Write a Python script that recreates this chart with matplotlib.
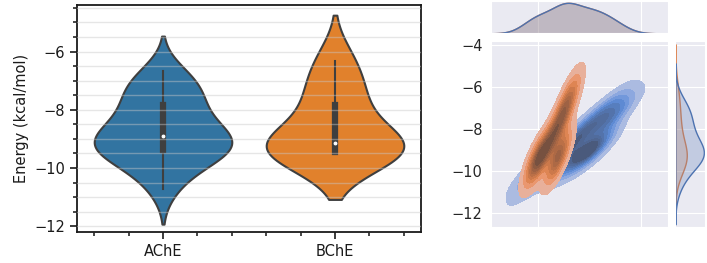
import numpy as np
import pandas as pd
import matplotlib
matplotlib.use("Agg")
import matplotlib.pyplot as plt
from matplotlib.ticker import MultipleLocator
import seaborn as sns

# docking energies (kcal/mol) per enzyme
ache_energy = [-10.72, -10.15, -9.85, -9.65, -9.45, -9.38, -9.28, -9.18, -9.08, -8.98,
               -8.82, -8.65, -8.45, -8.25, -7.9, -7.7, -7.45, -7.2, -6.95, -6.68]
bche_energy = [-9.5, -9.48, -9.45, -9.2, -9.05, -8.0, -7.3, -6.33]

# second descriptor for the joint panel (unlabelled axis)
ache_x = [-0.15, -0.13, 0.53, 0.06, 0.79, 0.51, 1.00, 0.69, 1.08, 0.57,
          1.08, 0.60, 1.17, 0.80, 1.18, 0.96, 1.46, 1.30, 1.60, 1.45]
bche_x = [0.0, 0.38, -0.05, 0.40, 0.15, 0.35, 0.50, 0.62]

enzymes = ["AChE", "BChE"]

df = pd.DataFrame({
    "enzyme": ["AChE"] * len(ache_energy) + ["BChE"] * len(bche_energy),
    "energy": ache_energy + bche_energy,
    "x": ache_x + bche_x,
})

W, H = 707, 263
fig = plt.figure(figsize=(W / 100, H / 100), dpi=100)

def box(x0, y0, x1, y1):
    # pixel box (top-left origin) -> figure fraction rect
    return [x0 / W, 1 - y1 / H, (x1 - x0) / W, (y1 - y0) / H]

# ---- left: violin plot ----
with sns.axes_style("ticks"):
    ax = fig.add_axes(box(77, 5, 421, 232))
sns.violinplot(data=df, x="enzyme", y="energy", hue="enzyme", order=enzymes,
               hue_order=enzymes, palette=["#1f77b4", "#ff7f0e"], density_norm="width",
               inner="box", inner_kws=dict(box_width=4.5, marker="."),
               linewidth=1.5, legend=False, ax=ax)
ax.set_xlim(-0.5, 1.5)
ax.set_ylim(-12.2, -4.4)
ax.yaxis.set_major_locator(MultipleLocator(2))
ax.yaxis.set_minor_locator(MultipleLocator(0.5))
ax.xaxis.set_minor_locator(MultipleLocator(0.2))
ax.set_axisbelow(False)
ax.grid(axis="y", which="both", color="#c8c8c8", alpha=0.45, lw=1)
ax.tick_params(which="major", length=5, width=1.2, labelsize=10.5, colors="#1a1a1a", direction="out")
ax.tick_params(which="minor", length=3, width=1.2, direction="out")
for s in ax.spines.values():
    s.set_visible(True)
    s.set_linewidth(1.3)
    s.set_color("#1a1a1a")
ax.set_xlabel("")
ax.set_ylabel("Energy (kcal/mol)", fontsize=10.5, color="#1a1a1a")

# ---- right: joint KDE with marginals ----
deep = sns.color_palette("deep")
pal = {"AChE": deep[0], "BChE": deep[1]}
with sns.axes_style("darkgrid"):
    axj = fig.add_axes(box(491, 40.7, 668, 226.7))
    axt = fig.add_axes(box(491, 1.3, 668, 33.3), sharex=axj)
    axr = fig.add_axes(box(675.3, 40.7, 705.3, 226.7), sharey=axj)

sns.kdeplot(data=df, x="x", y="energy", hue="enzyme", hue_order=enzymes, palette=pal,
            fill=True, common_norm=False, legend=False, ax=axj)
axj.set_xlim(-0.92, 2.53)
axj.set_ylim(-12.64, -3.8)
axj.set_xticks([0, 2])
axj.set_xticklabels([])
axj.set_yticks([-12, -10, -8, -6, -4])
axj.tick_params(labelsize=10.5, colors="#262626", pad=6, length=0)
axj.set_xlabel("")
axj.set_ylabel("")

all_x = ache_x + bche_x
sns.kdeplot(x=all_x, fill=True, color=pal["BChE"], alpha=0.25, linewidth=1, ax=axt)
sns.kdeplot(x=all_x, fill=True, color=pal["AChE"], alpha=0.25, linewidth=1, ax=axt)
axt.yaxis.grid(False)
axt.tick_params(labelbottom=False, labelleft=False, length=0)
axt.set_ylabel("")

sns.kdeplot(data=df, y="energy", hue="enzyme", hue_order=enzymes, palette=pal,
            fill=True, legend=False, linewidth=1, ax=axr)
axr.xaxis.grid(False)
axr.tick_params(labelbottom=False, labelleft=False, length=0)
axr.set_xlabel("")
axr.set_ylabel("")

fig.savefig("out.png", dpi=100)
